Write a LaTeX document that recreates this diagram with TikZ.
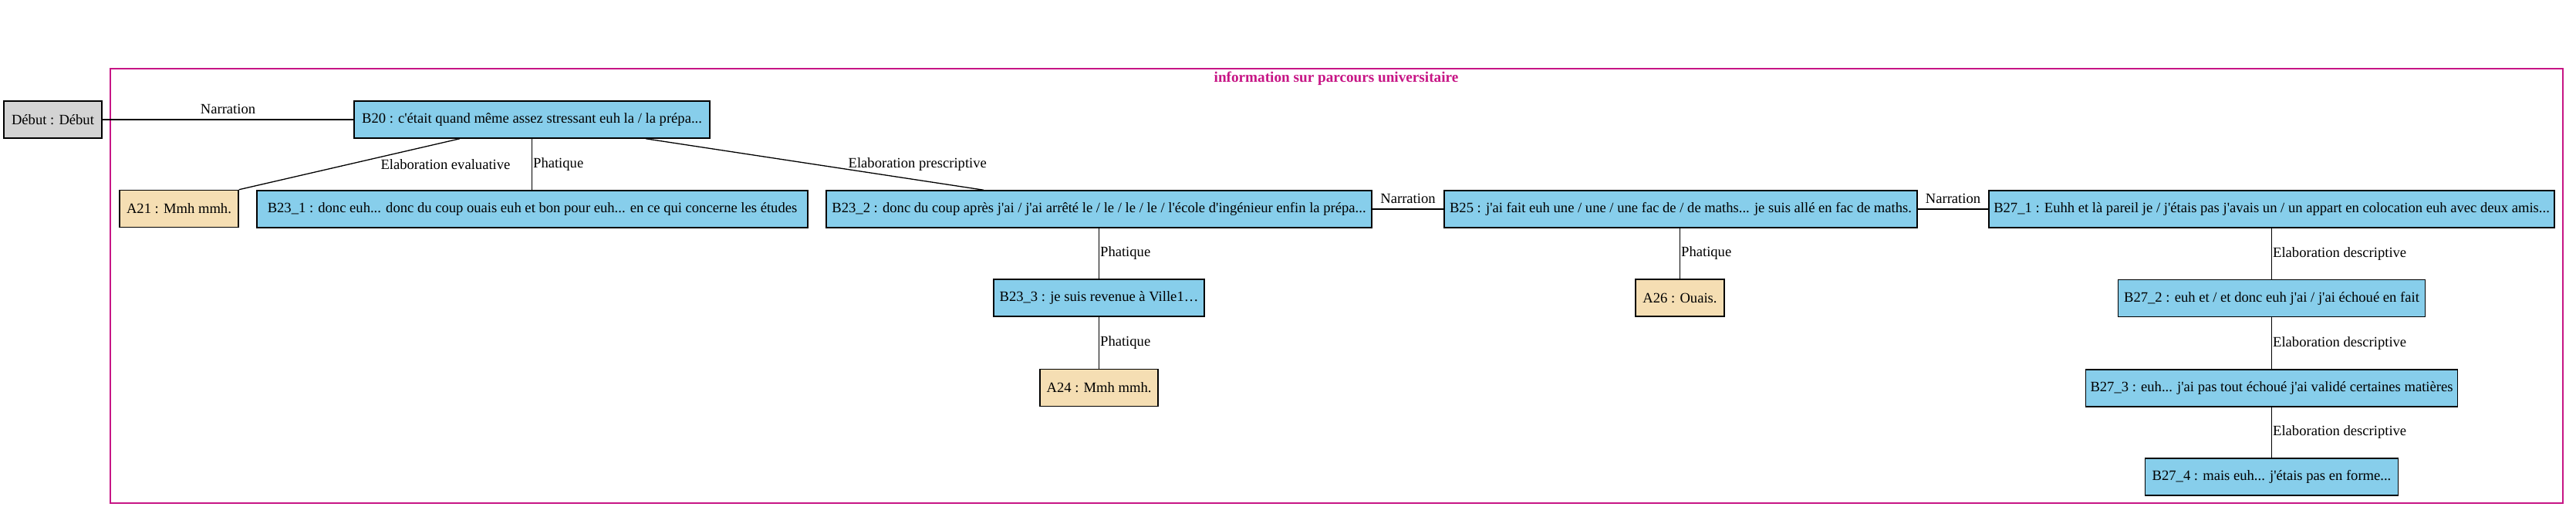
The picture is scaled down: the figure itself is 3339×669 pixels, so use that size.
\documentclass[tikz,border=0pt]{standalone}
\usepackage{fontspec}
\setmainfont{Liberation Serif}
\usetikzlibrary{calc}
\definecolor{skyb}{HTML}{87CEEB}
\definecolor{wheatc}{HTML}{F5DEB3}
\definecolor{greyc}{HTML}{D3D3D3}
\definecolor{clpink}{HTML}{C71585}
\newcommand{\ap}{\textquotesingle}
\begin{document}
\begin{tikzpicture}[x=0.5pt,y=-0.5pt,
  box/.style={draw=black, line width=0.75pt, minimum height=24pt, inner sep=0pt, font=\fontsize{9.3pt}{10pt}\selectfont},
  bbox/.style={box, fill=skyb},
  abox/.style={box, fill=wheatc},
  gbox/.style={box, fill=greyc},
  lab/.style={inner sep=0pt, font=\fontsize{9.3pt}{10pt}\selectfont},
  edge/.style={draw=black, line width=0.65pt}]
\useasboundingbox (0,0) rectangle (3339,669);
\draw[clpink, line width=1pt] (143,89) rectangle (3322,652);
\node[font=\bfseries\fontsize{9.6pt}{10pt}\selectfont, text=clpink, inner sep=0pt] (title) at (1732,102) {information sur parcours universitaire};

\node[gbox, minimum width=63.5pt] (debut) at (68.5,155) {Début : Début};
\node[bbox, minimum width=230.5pt] (B20) at (689.5,155) {B20 : c\ap était quand même assez stressant euh la / la prépa...};
\node[abox, minimum width=77pt] (A21) at (232,270.5) {A21 : Mmh mmh.};
\node[bbox, minimum width=357pt] (B23_1) at (690,271) {B23\_1 : donc euh... donc du coup ouais euh et bon pour euh... en ce qui concerne les études};
\node[bbox, minimum width=353.5pt] (B23_2) at (1424.5,271) {B23\_2 : donc du coup après j\ap ai / j\ap ai arrêté le / le / le / le / l\ap école d\ap ingénieur enfin la prépa...};
\node[bbox, minimum width=306.5pt] (B25) at (2178.5,271) {B25 : j\ap ai fait euh une / une / une fac de / de maths... je suis allé en fac de maths.};
\node[bbox, minimum width=366.5pt] (B27_1) at (2944.5,271) {B27\_1 : Euhh et là pareil je / j\ap étais pas j\ap avais un / un appart en colocation euh avec deux amis...};
\node[bbox, minimum width=136.5pt] (B23_3) at (1424.5,386) {B23\_3 : je suis revenue à Ville1…};
\node[abox, minimum width=57.5pt] (A26) at (2177.5,386) {A26 : Ouais.};
\node[abox, minimum width=76.5pt] (A24) at (1424.5,502.5) {A24 : Mmh mmh.};
\node[bbox, minimum width=199pt] (B27_2) at (2944.5,386.5) {B27\_2 : euh et / et donc euh j\ap ai / j\ap ai échoué en fait};
\node[bbox, minimum width=241pt] (B27_3) at (2944.5,503) {B27\_3 : euh... j\ap ai pas tout échoué j\ap ai validé certaines matières};
\node[bbox, minimum width=164pt] (B27_4) at (2944.5,618) {B27\_4 : mais euh... j\ap étais pas en forme...};

\draw[edge] (debut) -- node[lab, yshift=7pt] {Narration} (B20);
\draw[edge] ($(B20.south)+(-93.5,0)$) -- node[lab, pos=0.5, anchor=west, xshift=20pt] {Elaboration evaluative} (A21.north east);
\draw[edge] (B20.south) -- node[lab, anchor=west, xshift=0.5pt] {Phatique} (B20.south |- B23_1.north);
\draw[edge] ($(B20.south)+(147.5,0)$) -- node[lab, pos=0.5, anchor=west, xshift=21.5pt] {Elaboration prescriptive} ($(B23_2.north)+(-149.5,0)$);
\draw[edge] (B23_2) -- node[lab, yshift=7pt] {Narration} (B25);
\draw[edge] (B25) -- node[lab, yshift=7pt] {Narration} (B27_1);
\draw[edge] (B23_2.south) -- node[lab, anchor=west, xshift=0.5pt] {Phatique} (B23_3.north);
\draw[edge] (B23_3.south) -- node[lab, anchor=west, xshift=0.5pt] {Phatique} (A24.north);
\draw[edge] (A26.north |- B25.south) -- node[lab, anchor=west, xshift=0.5pt] {Phatique} (A26.north);
\draw[edge] (B27_1.south) -- node[lab, anchor=west, xshift=0.5pt] {Elaboration descriptive} (B27_2.north);
\draw[edge] (B27_2.south) -- node[lab, anchor=west, xshift=0.5pt] {Elaboration descriptive} (B27_3.north);
\draw[edge] (B27_3.south) -- node[lab, anchor=west, xshift=0.5pt] {Elaboration descriptive} (B27_4.north);
\end{tikzpicture}
\end{document}
